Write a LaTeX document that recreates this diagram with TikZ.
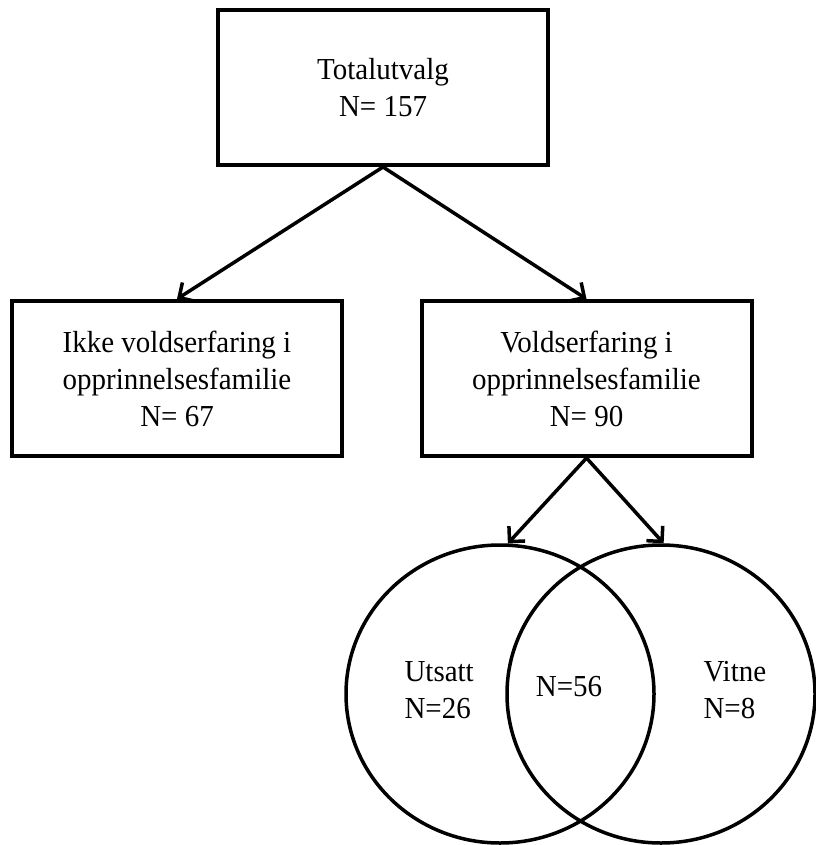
\documentclass[tikz,border=0pt]{standalone}
\usepackage{fontspec}
\setmainfont{Liberation Serif}[FakeStretch=0.95]
\usetikzlibrary{arrows.meta,shapes.geometric}

\begin{document}
\begin{tikzpicture}[x=1pt,y=-1pt,
    font=\fontsize{30.5}{37}\selectfont,
    box/.style={draw,line width=4pt,minimum width=330pt,minimum height=155pt,
      align=center,inner sep=0pt},
    ring/.style={draw,ellipse,line width=3.5pt,minimum width=308pt,
      minimum height=298pt,inner sep=0pt},
    pil/.style={line width=3.5pt,-{Straight Barb[length=11pt,width=22pt]}}]
  \useasboundingbox (0,0) rectangle (815,845);
  % boxes
  \node[box] (total) at (383,87.5) {Totalutvalg\\N= 157};
  \node[box] (ikke)  at (177,378.5) {Ikke voldserfaring i\\opprinnelsesfamilie\\N= 67};
  \node[box] (vold)  at (586.5,378.5) {Voldserfaring i\\opprinnelsesfamilie\\N= 90};
  % venn
  \node[ring] (utsatt) at (500,694) {};
  \node[ring] (vitne)  at (661,694) {};
  \node[align=left,anchor=west] (utsattN) at (401,690) {Utsatt\\N=26};
  \node (begge) at (569,687) {N=56};
  \node[align=left,anchor=west] (vitneN) at (700,690) {Vitne\\N=8};
  % arrows
  \draw[pil] (total.south) -- (ikke.north);
  \draw[pil] (total.south) -- (vold.north);
  \draw[pil] (vold.south) -- (utsatt.87);
  \draw[pil] (vold.south) -- (vitne.89);
\end{tikzpicture}
\end{document}
